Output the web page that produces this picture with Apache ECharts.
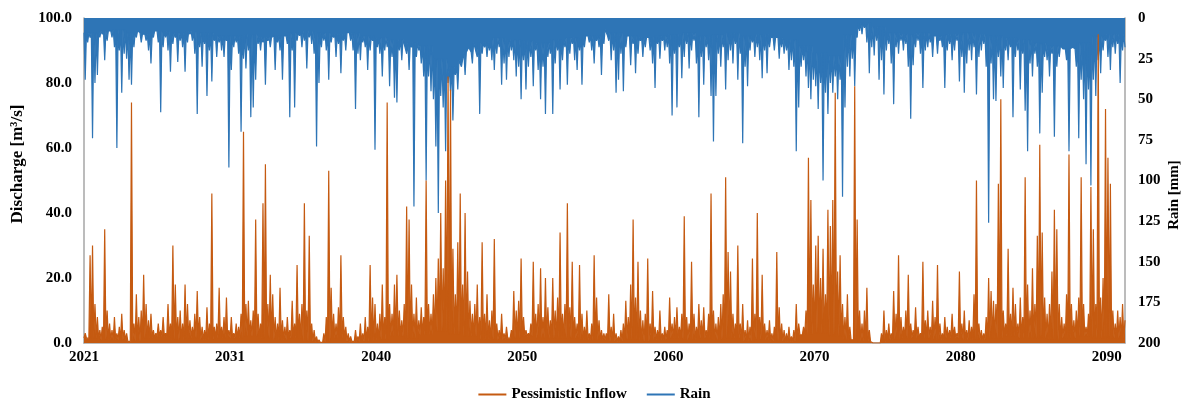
<!DOCTYPE html>
<html>
<head>
<meta charset="utf-8">
<script src="https://cdn.jsdelivr.net/npm/echarts@6/dist/echarts.min.js"></script>
<style>
html,body{margin:0;padding:0;background:#fff;}
#chart{width:1189px;height:401px;}
</style>
</head>
<body>
<div id="chart"></div>
<script>
// Tick labels along the time axis (one every 60 samples)
const tickLabels = ["2021","2031","2040","2050","2060","2070","2080","2090"];
const samplesPerTick = 60;
const samplesPerBlock = 6;   // base-level readings are taken per block of 6 samples

// Pessimistic inflow [m3/s]: peak reached within each sample
const inflowPeak = [
3,2,27,30,12,8,4,5,35,10,6,4,8,3,5,9,4,3,1,74,6,15,8,10,21,12,7,9,4,3,6,4,8,3,12,6,30,18,8,10,6,18,12,7,5,9,16,8,5,4,11,6,46,5,
6,17,5,8,14,4,8,3,6,5,9,65,12,13,7,10,38,9,6,43,55,12,21,15,8,6,17,7,5,8,4,13,6,24,9,12,43,10,33,6,4,2,1,0.5,3,8,53,17,9,6,11,27,8,5,
3,2,1,4,2,6,3,8,5,24,14,12,6,9,18,8,74,12,9,18,21,10,7,12,42,38,18,9,14,7,11,8,50,12,9,15,20,26,40,23,50,82,78,29,15,31,46,18,40,22,13,9,12,
18,8,31,9,15,7,10,32,6,4,9,3,5,2,4,16,10,13,26,8,4,3,6,25,9,12,23,8,20,11,7,20,10,14,34,9,12,43,11,25,8,6,24,9,5,10,3,6,27,14,7,4,3,
3,15,5,9,3,2,4,6,13,8,18,38,14,25,10,7,9,26,6,16,5,4,10,3,5,4,14,6,8,11,5,9,39,8,6,25,9,5,12,7,11,4,9,46,10,6,8,12,15,51,28,22,9,6,
30,6,12,4,7,5,26,9,40,8,21,6,4,7,3,5,28,11,6,4,3,5,2,4,12,6,3,5,10,57,44,18,30,33,20,29,15,41,36,44,77,22,27,12,8,15,5,1,79,38,10,6,10,
17,4,1,0.3,0.2,0.5,3,10,4,6,3,16,9,27,8,5,10,21,6,4,11,5,3,25,7,10,5,13,8,24,6,3,8,5,4,9,5,3,22,6,10,4,7,5,15,50,6,4,3,8,20,16,13,
12,49,75,10,6,29,9,17,12,6,14,8,51,18,10,23,12,33,61,34,14,9,12,22,41,35,12,8,6,15,58,12,7,10,14,51,12,5,9,48,35,12,95,14,20,72,57,49,10,6,10,8,12,7
];
// Pessimistic inflow [m3/s]: base level between peaks, one reading per block
const inflowBase = [
1.5,1,1,0.5,1.5,2,1,1.5,1,1.5,1.5,2,1.5,1,1.5,0.5,0.2,1.5,0.5,0.5,1,2,1.5,2.5,3.5,2.5,2,1,1,1.5,2,1.5,1.5,1.5,1,1,
0.5,1,0.5,1,1.5,1,1.5,1,1.5,0.5,1,0.5,0.5,2.5,3,2,1,0.5,0,1,1.5,1.5,1,1.5,1,1,1.5,2,1.5,1.5,1,1.5,2,1.5,1.5,1.5
];

// Rain [mm]: peak reached within each sample
const rainPeak = [
38,15,12,74,40,35,12,10,26,14,8,12,18,80,20,46,22,25,38,41,18,12,8,15,10,14,20,28,12,8,15,58,18,12,20,33,16,12,27,14,18,33,15,10,14,22,59,18,30,16,48,20,39,14,
24,15,20,24,14,92,32,18,15,22,70,25,31,20,61,55,38,16,20,15,41,14,18,12,32,15,20,38,12,16,61,20,55,14,11,18,14,31,12,16,22,79,40,18,14,20,38,15,12,24,16,34,14,20,
10,14,20,56,22,26,15,18,32,20,14,81,18,22,36,20,18,42,24,49,52,20,26,16,22,32,18,116,24,20,28,36,100,36,45,50,79,120,48,55,82,40,45,63,35,44,26,30,35,22,18,28,15,
24,59,22,18,24,20,26,32,22,18,41,28,38,24,20,26,36,30,50,26,44,30,24,42,20,32,50,30,59,24,22,59,28,20,44,26,18,41,22,16,26,32,20,41,18,12,15,20,28,14,18,35,16,
7,14,26,20,46,38,22,45,18,12,29,16,34,22,14,24,18,12,20,28,43,16,25,14,20,18,28,60,22,55,18,37,24,16,31,20,14,28,61,24,41,18,26,48,76,48,22,30,18,44,26,20,28,16,
38,22,77,30,42,20,15,24,18,26,37,20,34,18,12,20,13,25,18,22,20,32,26,30,82,55,30,26,36,43,50,38,42,56,40,100,46,59,40,46,36,50,38,110,55,30,36,25,42,12,8,10,6,
15,34,18,23,14,38,26,47,20,16,28,53,18,22,14,20,16,30,62,29,18,14,22,43,20,18,15,24,12,22,14,18,43,20,16,26,20,14,39,24,46,28,20,26,18,47,24,20,16,30,126,28,50,
51,24,36,43,20,26,18,61,24,20,44,22,57,82,28,36,22,30,71,46,24,26,36,22,73,30,24,18,20,26,82,20,18,30,74,38,50,90,44,103,38,48,26,34,20,14,24,32,18,22,16,40,20,18
];
// Rain [mm]: depth of the solid (continuous) band, one reading per block
const rainBase = [
9,8,7,9,10,8,9,8,9,11,11,10,12,11,9,8,9,10,9,11,12,13,15,17,25,30,21,15,12,13,14,15,13,12,11,11,
9,11,12,11,10,9,11,10,9,11,10,12,13,17,21,23,10,3,5,9,10,9,11,10,9,10,11,12,13,15,17,19,15,11,10,10
];

// Each sample contributes its base level and its peak, in that order
function build(peaks, bases) {
  const out = [];
  peaks.forEach((p, i) => {
    const b = bases[Math.floor(i / samplesPerBlock)];
    out.push(Math.min(b, p), p);
  });
  return out;
}
const inflowData = build(inflowPeak, inflowBase);
const rainData = build(rainPeak, rainBase);
const categories = inflowData.map((_, i) => String(i));
const labelEvery = samplesPerTick * 2;

const font = 'Liberation Serif, Times New Roman, serif';
const axisGrey = '#A6A6A6';
const orange = '#C55A11';
const blue = '#2E75B6';

const chart = echarts.init(document.getElementById('chart'), null, {renderer: 'canvas'});
chart.setOption({
  animation: false,
  backgroundColor: '#ffffff',
  grid: {left: 84, right: 64, top: 18, bottom: 58, containLabel: false},
  legend: {
    top: 382,
    left: 'center',
    itemWidth: 28,
    itemHeight: 2,
    itemGap: 20,
    icon: 'rect',
    textStyle: {fontFamily: font, fontWeight: 'bold', fontSize: 15, color: '#000'},
    data: ['Pessimistic Inflow', 'Rain']
  },
  graphic: [
    {type: 'text', x: 18, y: 164, rotation: Math.PI / 2,
     style: {text: 'Discharge [m³/s]', fontFamily: font, fontWeight: 'bold', fontSize: 17, fill: '#000',
             textAlign: 'center', textVerticalAlign: 'middle'}},
    {type: 'text', x: 1174, y: 195, rotation: Math.PI / 2,
     style: {text: 'Rain [mm]', fontFamily: font, fontWeight: 'bold', fontSize: 15, fill: '#000',
             textAlign: 'center', textVerticalAlign: 'middle'}}
  ],
  xAxis: {
    type: 'category',
    data: categories,
    boundaryGap: false,
    axisLine: {lineStyle: {color: axisGrey, width: 1.5}},
    axisTick: {show: false},
    axisLabel: {
      interval: labelEvery - 1,
      margin: 7,
      fontFamily: font, fontWeight: 'bold', fontSize: 15, color: '#000',
      formatter: (v, idx) => (idx % labelEvery === 0 ? (tickLabels[idx / labelEvery] || '') : '')
    },
    splitLine: {show: false}
  },
  yAxis: [
    {
      type: 'value', min: 0, max: 100, interval: 20, position: 'left',
      axisLine: {show: true, lineStyle: {color: axisGrey, width: 1.5}},
      axisTick: {show: false},
      splitLine: {show: false},
      axisLabel: {margin: 12, fontFamily: font, fontWeight: 'bold', fontSize: 15, color: '#000',
        formatter: v => v.toFixed(1)}
    },
    {
      type: 'value', min: 0, max: 200, interval: 25, position: 'right', inverse: true,
      axisLine: {show: true, lineStyle: {color: axisGrey, width: 1.5}},
      axisTick: {show: false},
      splitLine: {show: false},
      axisLabel: {margin: 13, fontFamily: font, fontWeight: 'bold', fontSize: 15, color: '#000'}
    }
  ],
  series: [
    {
      name: 'Rain', type: 'line', yAxisIndex: 1, data: rainData,
      showSymbol: false, symbol: 'none',
      lineStyle: {color: blue, width: 1.2},
      itemStyle: {color: blue},
      areaStyle: {color: blue, opacity: 1},
      z: 2
    },
    {
      name: 'Pessimistic Inflow', type: 'line', yAxisIndex: 0, data: inflowData,
      showSymbol: false, symbol: 'none',
      lineStyle: {color: orange, width: 1.2},
      itemStyle: {color: orange},
      areaStyle: {color: orange, opacity: 1},
      z: 3
    }
  ]
});
</script>
</body>
</html>
